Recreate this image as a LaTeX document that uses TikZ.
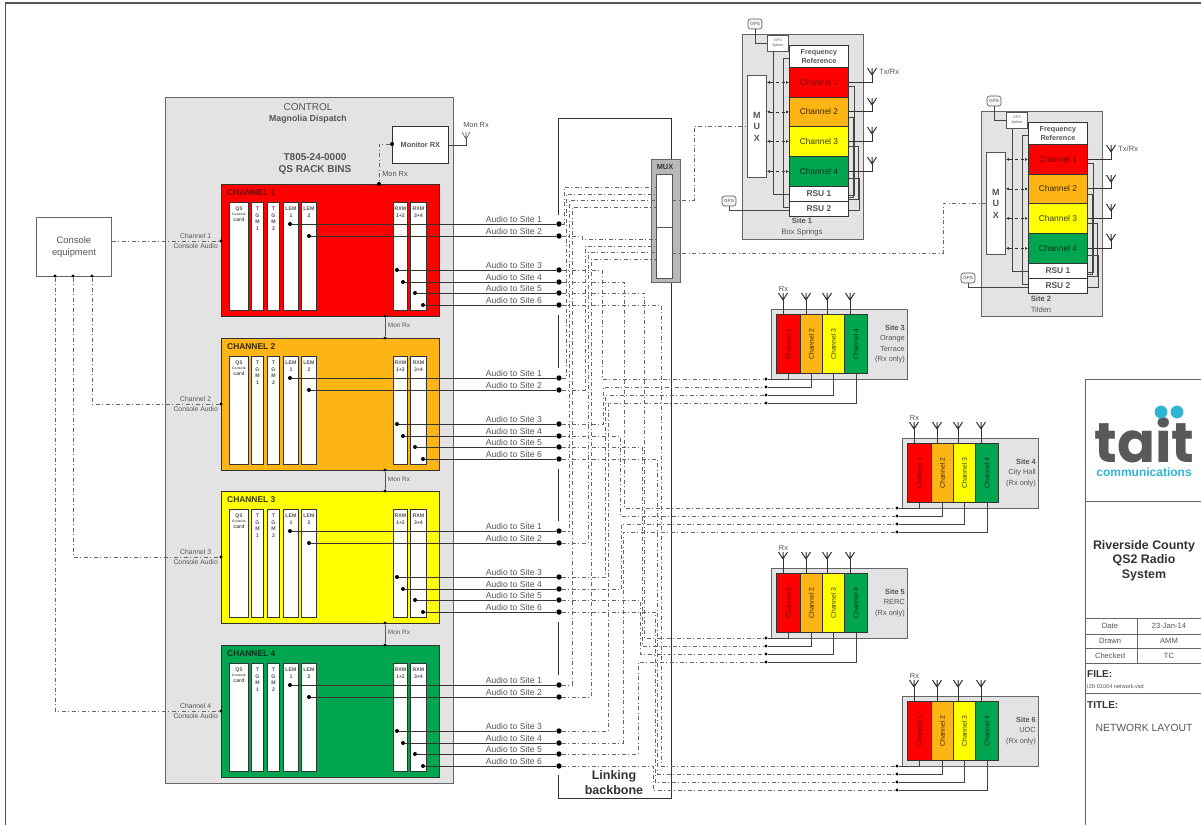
\documentclass[tikz,border=0pt]{standalone}
\usepackage{fontspec}
\setmainfont{Liberation Sans}
\newfontfamily\logofont{Poppins}
\usetikzlibrary{arrows.meta}
\definecolor{panel}{HTML}{E3E3E3}
\definecolor{chred}{HTML}{FF0000}
\definecolor{chorange}{HTML}{FDB515}
\definecolor{chyellow}{HTML}{FFFF00}
\definecolor{chgreen}{HTML}{00A64F}
\definecolor{tred}{HTML}{7A0000}
\definecolor{torange}{HTML}{3A2800}
\definecolor{tyellow}{HTML}{3A3A00}
\definecolor{tgreen}{HTML}{00331A}
\definecolor{ink}{HTML}{333333}
\definecolor{soft}{HTML}{555555}
\definecolor{busc}{HTML}{666666}
\definecolor{fbc}{HTML}{444444}
\definecolor{frame}{HTML}{666666}
\definecolor{logogrey}{HTML}{58595B}
\definecolor{logocyan}{HTML}{2FB4D6}
\newcommand\fsz[2]{\fontsize{#1}{#2}\selectfont}
\tikzset{
  panelbox/.style={draw=frame,fill=panel,line width=.9pt,inner sep=0pt},
  rack/.style={draw=ink,line width=1.3pt,inner sep=0pt,anchor=north west,minimum width=218pt,minimum height=132pt},
  card/.style={draw=ink,fill=white,line width=.9pt,inner sep=0pt,anchor=north west},
  cardtext/.style={anchor=north,inner sep=0pt,align=center,text=soft,font=\bfseries\fsz{5.2}{6.6}},
  ldot/.style={circle,fill=black,inner sep=0pt,minimum size=5.4pt},
  sdot/.style={circle,fill=black,inner sep=0pt,minimum size=4pt},
  tdot/.style={circle,fill=black,inner sep=0pt,minimum size=3.2pt},
  aud/.style={draw=ink,line width=.8pt},
  bus/.style={draw=busc,line width=.65pt,dash pattern=on 4pt off 2.5pt on 1pt off 2.5pt},
  fb/.style={draw=fbc,line width=.7pt},
  back/.style={draw=ink,line width=.9pt},
  ant/.style={draw=ink,line width=1pt},
  lbl/.style={inner sep=0pt,text=soft,align=center},
  audlbl/.style={inner sep=0pt,text=soft,anchor=base east,font=\fsz{8.6}{10}},
  gps/.style={draw=soft,fill=panel!40,rounded corners=2.5pt,line width=.6pt,minimum width=14pt,minimum height=10pt,inner sep=0pt,text=soft,font=\fsz{4.5}{5}},
  stack/.style={draw=ink,line width=.8pt,inner sep=0pt,anchor=north west,align=center,minimum width=59pt},
  tblock/.style={draw=frame,line width=.9pt},
}
\newcommand\bus[3]{\draw[bus] (#1) -| (#2,0 |- #3) -- (#3);}
\newcommand\antennatop[1]{\draw[ant] (#1) -- ++(0,-7) (#1) -- ++(-4.5,-7) (#1) -- ++(4.5,-7);}
% id dx dy number place
\newcommand\majorsite[5]{%
 \begin{scope}[shift={(#2,#3)}]
  \node[panelbox,anchor=north west,minimum width=121pt,minimum height=205pt] (#1box) at (742,34) {};
  \node[draw=soft,fill=white,line width=.9pt,inner sep=0pt,anchor=north west,minimum width=19pt,minimum height=102pt,align=center,text=soft,font=\bfseries\fsz{9}{11.5}] (#1mux) at (747,75) {M\\U\\X};
  \node[stack,fill=white,minimum height=22pt,text=soft,font=\bfseries\fsz{7.2}{9}] (#1f) at (789,45) {Frequency\\Reference};
  \node[stack,fill=chred,minimum height=30pt,text=tred,font=\fsz{8.4}{10}] (#1c1) at (789,67) {Channel 1};
  \node[stack,fill=chorange,minimum height=29pt,text=torange,font=\fsz{8.4}{10}] (#1c2) at (789,97) {Channel 2};
  \node[stack,fill=chyellow,minimum height=30pt,text=tyellow,font=\fsz{8.4}{10}] (#1c3) at (789,126) {Channel 3};
  \node[stack,fill=chgreen,minimum height=30pt,text=tgreen,font=\fsz{8.4}{10}] (#1c4) at (789,156) {Channel 4};
  \node[stack,fill=white,minimum height=15pt,text=soft,font=\bfseries\fsz{8.4}{10}] (#1r1) at (789,186) {RSU 1};
  \node[stack,fill=white,minimum height=15pt,text=soft,font=\bfseries\fsz{8.4}{10}] (#1r2) at (789,201) {RSU 2};
  \node[draw=soft,fill=white,line width=.7pt,inner sep=0pt,anchor=north west,minimum width=21pt,minimum height=16pt,align=center,text=soft,font=\fsz{3.6}{5}] (#1sp) at (767,35) {GPS\\Splitter};
  \node[gps] (#1gt) at (755,24) {GPS};
  \node[gps] (#1gb) at (729,201) {GPS};
  \node[lbl,font=\fsz{7.6}{11}] (#1name) at (802,227.5) {\textbf{Site #4}\\#5};
  \draw[fb] (#1gt.south) |- (#1sp.west);
  \draw[fb] (#1gb.south) |- ([yshift=-1.5pt]#1r2.west);
  \draw[fb] ([xshift=-4.5pt]#1sp.south) |- (#1r1.west);
  \draw[fb] ([yshift=-2pt]#1f.west) -- ++(-6,0) |- ([yshift=1.5pt]#1r2.west);
  \draw[fb] ([yshift=-4pt]#1c1.east) -- ++(6,0) |- ([yshift=-1.5pt]#1r1.east);
  \draw[fb] ([yshift=-5.5pt]#1c2.east) -- ++(5,0) |- ([yshift=-3.5pt]#1r1.east);
  \draw[fb] ([yshift=-5pt]#1c3.east) -- ++(10,0) |- ([yshift=-5.5pt]#1r1.east);
  \draw[fb] ([yshift=-7pt]#1c4.east) -- ++(11,0) |- ([yshift=-1.5pt]#1r2.east);
  \foreach \n/\ty in {1/75,2/105,3/134,4/164}{
    \coordinate (#1t\n) at (872,\ty);
    \draw[ant] (#1c\n.east) -| (#1t\n);
    \antennatop{#1t\n}
    \draw[{Latex[length=3pt,width=3pt]}-{Latex[length=3pt,width=3pt]},dashed,draw=ink,line width=.6pt] (#1mux.east |- #1c\n.west) -- (#1c\n.west);
  }
  \node[lbl,anchor=west,font=\fsz{7.6}{9}] (#1tx) at (879,72) {Tx/Rx};
 \end{scope}}
% id dx dy text
\newcommand\minorsite[4]{%
 \begin{scope}[shift={(#2,#3)}]
  \node[panelbox,anchor=north west,minimum width=136pt,minimum height=70pt] (#1box) at (771,309) {};
  \foreach \n/\cx/\w/\cf/\tf in {1/776/24/chred/tred,2/800/22/chorange/torange,3/822/22/chyellow/tyellow,4/844/23/chgreen/tgreen}{
    \node[draw=ink,line width=1pt,fill=\cf,inner sep=0pt,anchor=north west,minimum width=\w pt,minimum height=59pt] (#1c\n) at (\cx,314) {};
    \node[rotate=90,inner sep=0pt,text=\tf,font=\fsz{6.8}{8}] (#1l\n) at (#1c\n) {Channel \n};
  }
  \foreach \n/\ry in {1/379,2/387,3/395,4/403}{
    \node[tdot] (#1r\n) at (766,\ry) {};
    \draw[fb] (#1r\n) -| (#1c\n.south);
  }
  \foreach \n/\tx in {1/783,2/806,3/827,4/850}{
    \coordinate (#1t\n) at (\tx,300);
    \draw[ant] (#1t\n) -- (#1t\n |- #1c\n.north);
    \antennatop{#1t\n}
  }
  \node[lbl,font=\fsz{7.4}{9}] (#1rx) at (783.5,288.5) {Rx};
  \node[lbl,anchor=east,align=right,font=\fsz{7.4}{10.4}] (#1name) at (905,344) {#4};
 \end{scope}}
\begin{document}
\begin{tikzpicture}[x=1pt,y=-1pt]
\useasboundingbox (0,0) rectangle (1201,825);
% frame
\draw[draw=soft,line width=1.8pt] (5.5,825) -- (5.5,3) -- (1201,3);
% control panel
\node[panelbox,anchor=north west,minimum width=288pt,minimum height=686pt] (control) at (165,97) {};
\node[lbl,font=\fsz{10}{12}] (ctitle) at (308,107) {CONTROL};
\node[lbl,font=\bfseries\fsz{8.8}{10}] (csub) at (308,119) {Magnolia Dispatch};
\node[lbl,font=\bfseries\fsz{10}{12}] (bins) at (315,164) {T805-24-0000\\QS RACK BINS};
% backbone
\coordinate (bbtop) at (558,118);
\coordinate (bbright) at (671,118);
\coordinate (bbbr) at (671,798);
\coordinate (bbbl) at (558,798);
\draw[back] (558,215) -- (bbtop) -- (bbright) -- (bbbr) -- (bbbl) -- (558,775);
\draw[back] (558,315) -- (558,368) (558,469) -- (558,521) (558,622) -- (558,675);
\node[lbl,text=ink,font=\bfseries\fsz{12.5}{15}] (bbname) at (614,783) {Linking\\backbone};
% console
\node[draw=frame,line width=.9pt,fill=white,minimum width=75pt,minimum height=59pt,inner sep=0pt,align=center,text=soft,anchor=north west,font=\fsz{9.4}{12}] (console) at (36,217) {Console\\equipment};
% rack channels
\foreach \c/\t/\col/\tc/\g in {1/184/chred/tred/57,2/338/chorange/torange/66,3/491/chyellow/tyellow/66,4/645/chgreen/tgreen/66}{
  \node[rack,fill=\col] (ch\c) at (221,\t) {};
  \node[anchor=west,inner sep=0pt,text=\tc,font=\bfseries\fsz{8.4}{10}] (cht\c) at (227,\t+9) {CHANNEL \c};
  \node[card,minimum width=19pt,minimum height=108pt] (q\c) at (229,\t+18) {};
  \node[cardtext] at ([yshift=-5pt]q\c.north) {Q5\\[-1.5pt]{\fsz{3.4}{4}Console}\\[-1.5pt]card};
  \node[card,minimum width=12pt,minimum height=108pt] (ta\c) at (251,\t+18) {};
  \node[cardtext] at ([yshift=-5pt]ta\c.north) {T\\G\\M\\1};
  \node[card,minimum width=12pt,minimum height=108pt] (tb\c) at (267,\t+18) {};
  \node[cardtext] at ([yshift=-5pt]tb\c.north) {T\\G\\M\\2};
  \node[card,minimum width=15pt,minimum height=108pt] (la\c) at (283,\t+18) {};
  \node[cardtext] at ([yshift=-5pt]la\c.north) {LEM\\1};
  \node[card,minimum width=15pt,minimum height=108pt] (lb\c) at (301,\t+18) {};
  \node[cardtext] at ([yshift=-5pt]lb\c.north) {LEM\\2};
  \node[card,minimum width=14pt,minimum height=108pt] (ra\c) at (393,\t+18) {};
  \node[cardtext] at ([yshift=-5pt]ra\c.north) {RXM\\1+2};
  \node[card,minimum width=16pt,minimum height=108pt] (rb\c) at (410,\t+18) {};
  \node[cardtext] at ([yshift=-5pt]rb\c.north) {RXM\\3+4};
  \foreach \s/\o/\sx in {1/40/290,2/52/309,3/86/397,4/98/403,5/109/415,6/121/423}{
    \node[ldot] (a\c s\s) at (559,\t+\o) {};
    \node[sdot] (b\c s\s) at (\sx,\t+\o) {};
    \draw[aud] (b\c s\s) -- (a\c s\s);
    \node[audlbl] at (542,\t+\o-2) {Audio to Site \s};
  }
  % console audio
  \node[tdot] (in\c) at (221,\t+\g) {};
  \node[lbl,anchor=east,font=\fsz{6.8}{10}] (cl\c) at (218,\t+\g) {Channel \c\\Console Audio};
}
% console connections
\node[tdot] (co2) at (92,276) {};
\node[tdot] (co3) at (73,276) {};
\node[tdot] (co4) at (55,276) {};
\draw[bus] (console.east |- in1) -- (in1);
\draw[bus] (co2) |- (in2);
\draw[bus] (co3) |- (in3);
\draw[bus] (co4) |- (in4);
% monitor
\node[draw=ink,line width=.9pt,fill=white,anchor=north west,minimum width=56pt,minimum height=37pt,inner sep=0pt,text=soft,font=\bfseries\fsz{7.4}{9}] (mon) at (392,126) {Monitor RX};
\node[sdot] (monin) at (392,144) {};
\node[sdot] (monch) at (379,184) {};
\draw[bus] (monin) -| (monch);
\node[lbl,font=\fsz{7.4}{9}] (monl) at (395,174) {Mon Rx};
\coordinate (monant) at (466,139);
\draw[fb,line width=.8pt] (mon.east) -| (monant);
\draw[draw=soft,line width=.6pt] (monant) -- ++(0,-7) (monant) -- ++(-4,-7) (monant) -- ++(4,-7);
\node[lbl,font=\fsz{7.4}{9}] (monl2) at (476,125) {Mon Rx};
\foreach \a/\b/\y/\yy in {1/2/316/338,2/3/470/491,3/4/623/645}{
  \node[tdot] (mu\a) at (385,\y) {};
  \node[tdot] (md\a) at (385,\yy) {};
  \draw[draw=soft,line width=.7pt] (mu\a) -- (md\a);
  \node[lbl,font=\fsz{6.4}{8}] at (399,\y+9) {Mon Rx};
}
% linking mux
\node[draw=frame,fill=black!28,line width=1pt,anchor=north west,minimum width=29pt,minimum height=123pt,inner sep=0pt] (lmux) at (651,159) {};
\node[draw=soft,fill=white,line width=.8pt,anchor=north west,minimum width=16pt,minimum height=53pt,inner sep=0pt] (muxa) at (656,174) {};
\node[draw=soft,fill=white,line width=.8pt,anchor=north west,minimum width=16pt,minimum height=51pt,inner sep=0pt] (muxb) at (656,227) {};
\node[lbl,text=ink,font=\bfseries\fsz{7.4}{9}] (lmuxt) at (665,167) {MUX};
\coordinate (m1) at (656,187);
\coordinate (m2) at (656,194);
\coordinate (m3) at (656,200);
\coordinate (m4) at (656,207);
\coordinate (n1) at (656,239);
\coordinate (n2) at (656,246);
\coordinate (n3) at (656,252);
\coordinate (n4) at (656,259);
\coordinate (mo1) at (672,200);
\coordinate (mo2) at (672,253);
% sites
\majorsite{p}{0}{0}{1}{Box Springs}
\majorsite{q}{239}{77}{2}{Tilden}
\minorsite{s3}{0}{0}{\textbf{Site 3}\\Orange\\Terrace\\(Rx only)}
\minorsite{s4}{131}{129}{\textbf{Site 4}\\City Hall\\(Rx only)}
\minorsite{s5}{0}{259}{\textbf{Site 5}\\RERC\\(Rx only)}
\minorsite{s6}{131}{387}{\textbf{Site 6}\\UOC\\(Rx only)}
% mux links
\draw[bus] (mo1) -| (694,0 |- pmux.west) -- (pmux.west);
\draw[bus] (mo2) -| (943,0 |- qmux.west) -- (qmux.west);
% audio buses
\bus{a1s1}{564}{m1}
\bus{a2s1}{566.5}{m2}
\bus{a3s1}{569}{m3}
\bus{a4s1}{572}{m4}
\bus{a1s2}{582}{n1}
\bus{a2s2}{585}{n2}
\bus{a3s2}{588}{n3}
\bus{a4s2}{591}{n4}
\bus{a1s3}{602}{s3r1}
\bus{a2s3}{603.5}{s3r2}
\bus{a3s3}{605.5}{s3r3}
\bus{a4s3}{608}{s3r4}
\bus{a1s4}{624}{s4r1}
\bus{a2s4}{620}{s4r2}
\bus{a3s4}{621.5}{s4r3}
\bus{a4s4}{623}{s4r4}
\bus{a1s5}{644.5}{s5r1}
\bus{a2s5}{642}{s5r2}
\bus{a3s5}{640}{s5r3}
\bus{a4s5}{638}{s5r4}
\bus{a1s6}{661}{s6r1}
\bus{a2s6}{657.5}{s6r2}
\bus{a3s6}{655}{s6r3}
\bus{a4s6}{653}{s6r4}
% title block
\draw[tblock] (1201,379) -- (1085,379) -- (1085,825);
\draw[tblock] (1085,501) -- (1201,501);
\draw[tblock] (1085,618) -- (1201,618);
\draw[tblock] (1085,634) -- (1201,634);
\draw[tblock] (1085,648) -- (1201,648);
\draw[tblock] (1085,663) -- (1201,663);
\draw[tblock] (1085,693) -- (1201,693);
\draw[tblock] (1137,618) -- (1137,663);
\node[anchor=base,inner sep=0pt,text=logogrey,font=\logofont\bfseries\fsz{56}{60}] (logo) at (1144.5,462) {tait};
\fill[logocyan] (1161,412) circle (6.4pt);
\fill[logocyan] (1177,412) circle (6.4pt);
\node[anchor=center,inner sep=0pt,text=logocyan,font=\bfseries\fsz{12}{14}] (logosub) at (1144,472) {communications};
\node[lbl,text=ink,font=\bfseries\fsz{12.4}{14.5}] (proj) at (1144,560.5) {Riverside County\\QS2 Radio\\System};
\foreach \l/\v/\y in {Date/23-Jan-14/626,Drawn/AMM/641,Checked/TC/655.5}{
  \node[lbl,font=\fsz{7.6}{9}] at (1110,\y) {\l};
  \node[lbl,font=\fsz{7.6}{9}] at (1169,\y) {\v};
}
\node[lbl,anchor=west,text=ink,font=\bfseries\fsz{10}{12}] (filel) at (1087,674) {FILE:};
\node[lbl,anchor=west,font=\fsz{5.6}{7}] (filev) at (1087,686) {I20-01004 network.vsd};
\node[lbl,anchor=west,text=ink,font=\bfseries\fsz{10}{12}] (titlel) at (1087,705) {TITLE:};
\node[lbl,font=\fsz{10.4}{12}] (titlev) at (1144,728) {NETWORK LAYOUT};
\end{tikzpicture}
\end{document}
